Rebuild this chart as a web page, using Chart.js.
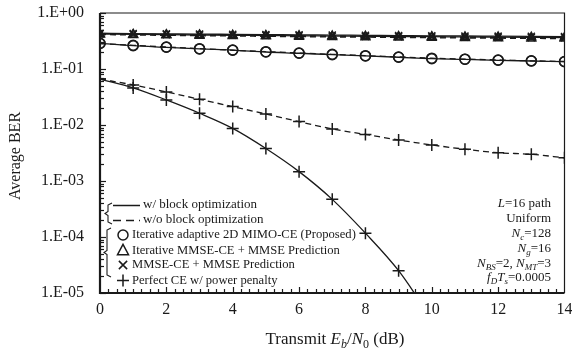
<!DOCTYPE html>
<html><head><meta charset="utf-8">
<script src="https://cdn.jsdelivr.net/npm/chart.js@4"></script>
<style>html,body{margin:0;padding:0;background:#fff}#wrap{width:572px;height:352px}</style>
</head><body><div id="wrap"><canvas id="c" width="572" height="352"></canvas></div>
<script>
const snr = [0,1,2,3,4,5,6,7,8,9,10,11,12,13,14];
const xTickLabels = ['0','2','4','6','8','10','12','14'];
const yTickLabels = ['1.E+00','1.E-01','1.E-02','1.E-03','1.E-04','1.E-05'];
const propSolid = [0.288,0.261,0.244,0.228,0.218,0.201,0.191,0.180,0.171,0.162,0.153,0.149,0.143,0.139,0.135];
const propDashed = [0.285,0.265,0.247,0.231,0.216,0.204,0.193,0.183,0.173,0.164,0.156,0.150,0.145,0.140,0.136];
const triSolid = [0.420,0.415,0.410,0.405,0.400,0.396,0.392,0.388,0.384,0.380,0.377,0.374,0.371,0.368,0.365];
const triDashed = [0.412,0.405,0.399,0.393,0.388,0.383,0.378,0.374,0.370,0.366,0.362,0.358,0.355,0.352,0.349];
const xSolid = [0.435,0.430,0.425,0.420,0.416,0.412,0.408,0.404,0.400,0.396,0.392,0.389,0.386,0.383,0.380];
const xDashed = [0.425,0.418,0.412,0.406,0.401,0.396,0.391,0.386,0.382,0.378,0.374,0.370,0.367,0.364,0.361];
const perfSolid = [0.066,0.046,0.028,0.0162,0.0087,0.0038,0.00147,0.00047,0.000117,0.000025,0.0000034,null,null,null,null];
const perfDashed = [0.066,0.052,0.039,0.0288,0.0213,0.0157,0.0115,0.0085,0.0068,0.0054,0.0044,0.0037,0.0032,0.0030,0.0026];
const legendLines = ['w/ block optimization','w/o block optimization'];
const legendMarkers = ['Iterative adaptive 2D MIMO-CE (Proposed)','Iterative MMSE-CE + MMSE Prediction','MMSE-CE + MMSE Prediction','Perfect CE w/ power penalty'];
const xTitle = [['Transmit ','n'],['E','i'],['b','isub'],['/','n'],['N','i'],['0','sub'],[' (dB)','n']];
const yTitle = 'Average BER';
const notes = [
  [['L','i'],['=16 path','n']],
  [['Uniform','n']],
  [['N','i'],['c','isub'],['=128','n']],
  [['N','i'],['g','isub'],['=16','n']],
  [['N','i'],['BS','isub'],['=2, ','n'],['N','i'],['MT','isub'],['=3','n']],
  [['f','i'],['D','isub'],['T','i'],['s','isub'],['=0.0005','n']]
];

const FONT = '"Liberation Serif", "Times New Roman", serif';
const INK = '#1a1a1a';

function ds(label, data, style, dashed, radius){
  return {label, data: snr.map((x,i)=>({x, y: data[i]})), borderColor: INK, borderWidth: 1.3,
    borderDash: dashed ? [6,4] : [], pointStyle: style, pointRadius: radius, pointHoverRadius: radius,
    pointBorderColor: INK, pointBackgroundColor: 'rgba(0,0,0,0)', pointBorderWidth: 1.5,
    cubicInterpolationMode: 'monotone', fill: false, spanGaps: false};
}

function rich(ctx, segs, x, y, size, align){
  const fontFor = s => {
    const it = s==='i'||s==='isub';
    const sub = s==='sub'||s==='isub';
    return (it?'italic ':'') + (sub? Math.round(size*0.68) : size) + 'px ' + FONT;
  };
  let w = 0;
  segs.forEach(([t,s])=>{ ctx.font = fontFor(s); w += ctx.measureText(t).width; });
  let cx = align==='right' ? x - w : (align==='center' ? x - w/2 : x);
  ctx.textAlign = 'left'; ctx.textBaseline = 'alphabetic';
  segs.forEach(([t,s])=>{
    ctx.font = fontFor(s);
    const sub = s==='sub'||s==='isub';
    ctx.fillText(t, cx, y + (sub ? size*0.25 : 0));
    cx += ctx.measureText(t).width;
  });
}

function marker(ctx, style, x, y, r){
  ctx.beginPath();
  if(style==='circle'){ ctx.arc(x,y,r,0,Math.PI*2); }
  else if(style==='triangle'){ ctx.moveTo(x,y-r*1.1); ctx.lineTo(x+r,y+r*0.75); ctx.lineTo(x-r,y+r*0.75); ctx.closePath(); }
  else if(style==='crossRot'){ const d=r*0.75; ctx.moveTo(x-d,y-d); ctx.lineTo(x+d,y+d); ctx.moveTo(x+d,y-d); ctx.lineTo(x-d,y+d); }
  else if(style==='cross'){ ctx.moveTo(x-r,y); ctx.lineTo(x+r,y); ctx.moveTo(x,y-r); ctx.lineTo(x,y+r); }
  ctx.stroke();
}

function brace(ctx, x, y1, y2){
  const m = (y1+y2)/2;
  ctx.beginPath();
  ctx.moveTo(x+4, y1); ctx.lineTo(x, y1+2); ctx.lineTo(x, m-2); ctx.lineTo(x-3, m); ctx.lineTo(x, m+2);
  ctx.lineTo(x, y2-2); ctx.lineTo(x+4, y2);
  ctx.stroke();
}

const decor = {
  id: 'decor',
  afterDatasetsDraw(chart){
    const ctx = chart.ctx, a = chart.chartArea, xs = chart.scales.x, ys = chart.scales.y;
    ctx.save();
    ctx.strokeStyle = INK; ctx.fillStyle = INK;
    // frame
    ctx.lineWidth = 1.2;
    ctx.beginPath(); ctx.moveTo(a.left, a.top); ctx.lineTo(a.right, a.top); ctx.lineTo(a.right, a.bottom); ctx.stroke();
    ctx.lineWidth = 2.2;
    ctx.beginPath(); ctx.moveTo(a.left, a.top); ctx.lineTo(a.left, a.bottom); ctx.lineTo(a.right, a.bottom); ctx.stroke();
    // y ticks (inward)
    ctx.lineWidth = 1.2;
    for(let e=-5; e<=0; e++){
      for(let k=1;k<=9;k++){
        const v = k*Math.pow(10,e);
        if(v>1.0000001) break;
        const py = Math.round(ys.getPixelForValue(v))+0.5;
        const len = k===1 ? 6 : 4;
        ctx.beginPath(); ctx.moveTo(a.left, py); ctx.lineTo(a.left+len, py); ctx.stroke();
      }
    }
    // x ticks (inward)
    for(let t=0.25; t<14; t+=0.25){
      const px = Math.round(xs.getPixelForValue(t))+0.5;
      const len = (Math.abs(t%2)<1e-6) ? 6 : 4;
      ctx.beginPath(); ctx.moveTo(px, a.bottom); ctx.lineTo(px, a.bottom-len); ctx.stroke();
    }
    // legend
    ctx.lineWidth = 1.1;
    brace(ctx, 108, 203, 224);
    brace(ctx, 107, 228, 277);
    ctx.lineWidth = 1.5;
    ctx.setLineDash([]);
    ctx.beginPath(); ctx.moveTo(113,205.5); ctx.lineTo(140,205.5); ctx.stroke();
    ctx.setLineDash([8,5]);
    ctx.beginPath(); ctx.moveTo(113,220.5); ctx.lineTo(140,220.5); ctx.stroke();
    ctx.setLineDash([]);
    ctx.font = '13px ' + FONT; ctx.textBaseline = 'middle'; ctx.textAlign = 'left';
    ctx.fillText(legendLines[0], 143, 205);
    ctx.fillText(legendLines[1], 143, 220);
    const styles = ['circle','triangle','crossRot','cross'];
    const rows = [235, 250.5, 265, 280.5];
    ctx.lineWidth = 1.5;
    styles.forEach((s,i)=>{
      marker(ctx, s, 123, rows[i], s==='circle'?5:(s==='cross'?6:5.5));
      ctx.font = '12.6px ' + FONT; ctx.textBaseline = 'middle'; ctx.textAlign = 'left';
      ctx.fillText(legendMarkers[i], 132, rows[i]);
    });
    // notes
    const ny = [207, 222, 237, 252, 267, 281];
    notes.forEach((segs,i)=> rich(ctx, segs, 551, ny[i], 13, 'right'));
    // axis titles
    rich(ctx, xTitle, 335, 344, 17, 'center');
    ctx.save();
    ctx.translate(20, 156); ctx.rotate(-Math.PI/2);
    ctx.font = '16px ' + FONT; ctx.textAlign = 'center'; ctx.textBaseline = 'alphabetic';
    ctx.fillText(yTitle, 0, 0);
    ctx.restore();
    ctx.restore();
  }
};

new Chart(document.getElementById('c'), {
  type: 'line',
  data: { datasets: [
    ds('X solid', xSolid, 'crossRot', false, 5),
    ds('X dashed', xDashed, 'crossRot', true, 5),
    ds('Tri solid', triSolid, 'triangle', false, 5),
    ds('Tri dashed', triDashed, 'triangle', true, 5),
    ds('Prop solid', propSolid, 'circle', false, 5),
    ds('Prop dashed', propDashed, 'circle', true, 5),
    ds('Perf solid', perfSolid, 'cross', false, 6),
    ds('Perf dashed', perfDashed, 'cross', true, 6)
  ]},
  options: {
    responsive: false, animation: false, devicePixelRatio: 1,
    layout: { padding: { top: 13, right: 7, left: 0, bottom: 0 } },
    plugins: { legend: { display: false }, tooltip: { enabled: false } },
    scales: {
      x: { type: 'linear', min: 0, max: 14,
        grid: { display: false, drawTicks: false }, border: { display: false },
        ticks: { stepSize: 2, padding: 7, color: INK, font: { family: FONT, size: 16 },
          callback: (v) => xTickLabels.includes(String(v)) ? String(v) : '' },
        afterFit: s => { s.height = 59; s.paddingLeft = 0; s.paddingRight = 0; } },
      y: { type: 'logarithmic', min: 1e-5, max: 1,
        grid: { display: false, drawTicks: false }, border: { display: false },
        afterBuildTicks: s => { s.ticks = yTickLabels.map((t,i)=>({ value: Math.pow(10,-i) })); },
        ticks: { autoSkip: false, padding: 16, color: INK, font: { family: FONT, size: 16 },
          callback: (v) => { const e = Math.round(Math.log10(v)); return yTickLabels[-e]; } },
        afterFit: s => { s.width = 100; s.paddingTop = 0; s.paddingBottom = 0; } }
    }
  },
  plugins: [decor]
});
</script></body></html>
